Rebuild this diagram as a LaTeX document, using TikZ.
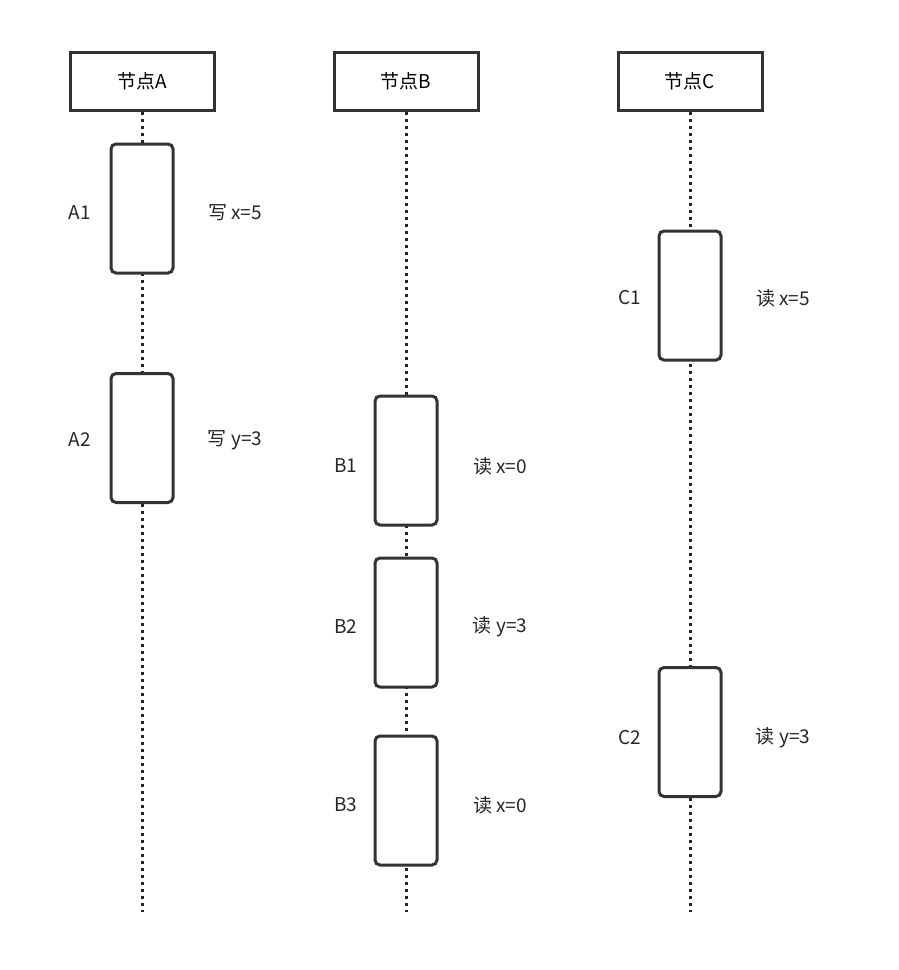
\documentclass[tikz,border=0pt]{standalone}
\usepackage{fontspec}
\setmainfont{Noto Sans CJK SC}
\begin{document}
\begin{tikzpicture}[x=1pt,y=-1pt,
  head/.style={draw=black!80,line width=3pt,minimum width=144pt,minimum height=58pt,inner sep=0pt,font=\fontsize{19}{22}\selectfont,fill=white},
  act/.style={draw=black!80,line width=3pt,rounded corners=5pt,minimum width=62pt,minimum height=129pt,inner sep=0pt,fill=white},
  lab/.style={font=\fontsize{19}{22}\selectfont,text=black!85},
  life/.style={draw=black!85,line width=3pt,dash pattern=on 3pt off 4pt}]
\useasboundingbox (0,0) rectangle (898,970);
\coordinate (ea) at (142,912);
\coordinate (eb) at (406,912);
\coordinate (ec) at (690,912);
\node[head] (A) at (142,81) {节点A};
\node[head] (B) at (406,81) {节点B};
\node[head] (C) at (690,81) {节点C};
\draw[life] (A.south) -- (ea);
\draw[life] (B.south) -- (eb);
\draw[life] (C.south) -- (ec);
\node[act] (A1) at (142,208.5) {};
\node[act] (A2) at (142,438) {};
\node[act] (B1) at (406,460.5) {};
\node[act] (B2) at (406,622.5) {};
\node[act] (B3) at (406,800.5) {};
\node[act] (C1) at (690,295.5) {};
\node[act] (C2) at (690,732) {};
\node[lab] (lA1) at (80,213) {A1};
\node[lab] (lA2) at (80,440) {A2};
\node[lab] (lB1) at (346,466) {B1};
\node[lab] (lB2) at (346,627) {B2};
\node[lab] (lB3) at (346,805) {B3};
\node[lab] (lC1) at (630,298) {C1};
\node[lab] (lC2) at (630,738) {C2};
\node[lab] (tA1) at (235,213) {写 x=5};
\node[lab] (tA2) at (235,440) {写 y=3};
\node[lab] (tB1) at (500,466) {读 x=0};
\node[lab] (tB2) at (500,627) {读 y=3};
\node[lab] (tB3) at (500,805) {读 x=0};
\node[lab] (tC1) at (783,298) {读 x=5};
\node[lab] (tC2) at (783,738) {读 y=3};
\end{tikzpicture}
\end{document}
